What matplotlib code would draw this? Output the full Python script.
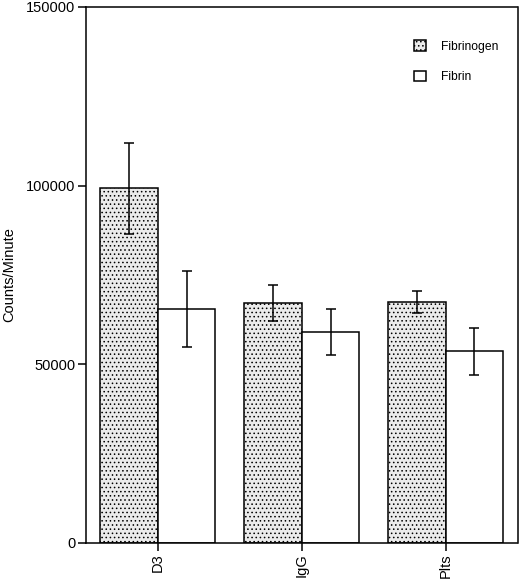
import matplotlib
matplotlib.use("Agg")
import matplotlib.pyplot as plt
import numpy as np
from matplotlib.patches import Patch

plt.rcParams['font.family'] = ['Liberation Sans', 'DejaVu Sans']
plt.rcParams['hatch.linewidth'] = 0.6

categories = ["D3", "IgG", "Plts"]
fibrinogen = [99300, 67100, 67500]
fibrinogen_err = [12700, 5100, 3100]
fibrin = [65400, 59000, 53600]
fibrin_err = [10600, 6400, 6600]
yticks = [0, 50000, 100000, 150000]

fig = plt.figure(figsize=(5.2, 5.82), dpi=100)
ax = fig.add_axes([86/520, 1-543/582, (517.5-86)/520, (543-7)/582])

x = np.arange(len(categories))
w = 0.4
lw = 1.1
ax.bar(x - w/2, fibrinogen, w, facecolor='#ebebeb', edgecolor='black',
       linewidth=lw, hatch='....', zorder=2)
ax.bar(x + w/2, fibrin, w, facecolor='white', edgecolor='black',
       linewidth=lw, zorder=2)
ax.errorbar(x - w/2, fibrinogen, yerr=fibrinogen_err, fmt='none', ecolor='black',
            elinewidth=lw, capsize=3.5, capthick=lw, zorder=3)
ax.errorbar(x + w/2, fibrin, yerr=fibrin_err, fmt='none', ecolor='black',
            elinewidth=lw, capsize=3.5, capthick=lw, zorder=3)

ax.set_xlim(-0.5, 2.5)
ax.set_ylim(0, 150000)
ax.set_yticks(yticks)
ax.set_yticklabels([str(v) for v in yticks], fontsize=10.5)
ax.set_xticks(x)
ax.set_xticklabels(categories, rotation=90, fontsize=10.5)
ax.tick_params(axis='both', direction='out', length=6, width=lw, pad=1.5)
for s in ax.spines.values():
    s.set_linewidth(lw)
ax.set_ylabel("Counts/Minute", fontsize=10.5, labelpad=7)

handles = [Patch(facecolor='#ebebeb', edgecolor='black', hatch='....', linewidth=lw),
           Patch(facecolor='white', edgecolor='black', linewidth=lw)]
fig.legend(handles, ["Fibrinogen", "Fibrin"], loc='upper left',
           bbox_to_anchor=(414/520, 1-40/582), frameon=False, fontsize=8.7,
           handlelength=1.0, handleheight=1.0, handletextpad=1.2,
           labelspacing=1.5, borderpad=0, borderaxespad=0)

fig.savefig("out.png", dpi=100)
